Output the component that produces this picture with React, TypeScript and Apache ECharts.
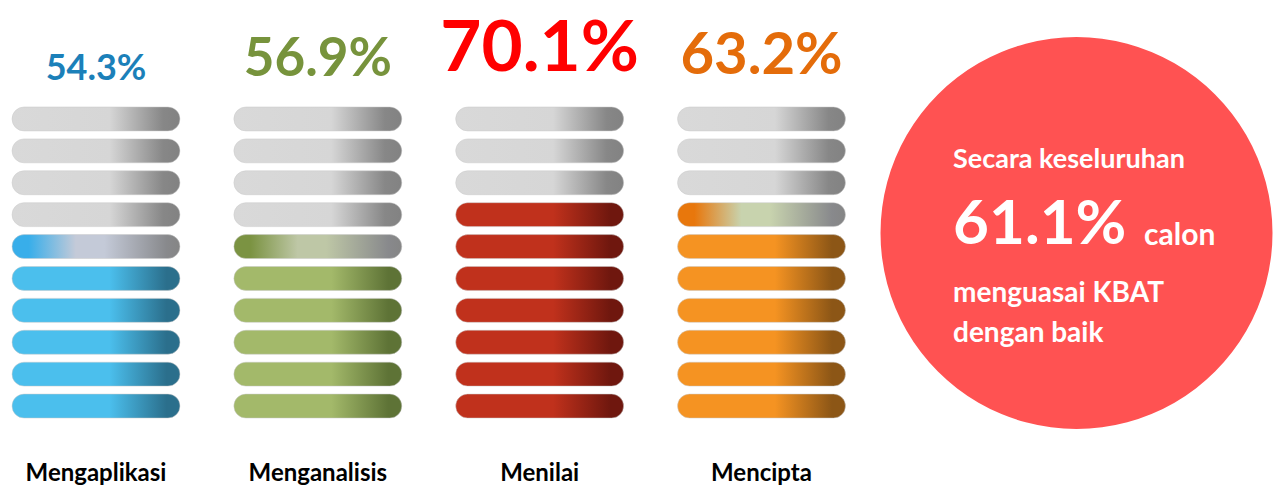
import React, { useEffect, useRef } from "react";
import * as echarts from "echarts";

// ---- data ----
const categories = ["Mengaplikasi", "Menganalisis", "Menilai", "Mencipta"];
const percentages = [54.3, 56.9, 70.1, 63.2];
const overallPercent = 61.1;
const slotValues = [5, 15, 25, 35, 45, 55, 65, 75, 85, 95]; // centre of each 10% slot
const summaryLines = ["Secara keseluruhan", "calon", "menguasai KBAT", "dengan baik"];

// ---- styles ----
const FONT = "Lato, 'Open Sans', sans-serif";
const labelColors = ["#1b80b9", "#77933c", "#ff0000", "#e46c0a"];
const labelSizes = [36, 53, 71, 58];
const fullLeft = ["#4bbfed", "#a3b96a", "#c0311c", "#f59322"];
const fullRight = ["#2b6f8c", "#5e7336", "#6f170e", "#8c5616"];
const partialLeft = ["#38aeea", "#7b9342", "#c0311c", "#e8770c"];
const partialPale = ["#c4cad8", "#bec7a6", "#d9d9d9", "#c8d3ae"];

function grad(stops: [number, string][]) {
  return new echarts.graphic.LinearGradient(
    0, 0, 1, 0,
    stops.map(([offset, color]) => ({ offset, color }))
  );
}

export default function App() {
  const ref = useRef<HTMLDivElement>(null);
  useEffect(() => {
    if (!ref.current) return;
    const chart = echarts.init(ref.current, null, { renderer: "svg" });

    const renderItem = (params: any, api: any) => {
      const i = api.value(0);
      const v = api.value(1);
      const size = api.size([1, 10]);
      const w = size[0] * 0.757;
      const h = size[1] * 0.75;
      const children: any[] = [];
      slotValues.forEach((sv) => {
        const c = api.coord([i, sv]);
        const lo = sv - 5;
        const frac = (v - lo) / 10;
        let fill;
        if (frac >= 1) {
          fill = grad([[0, fullLeft[i]], [0.58, fullLeft[i]], [0.92, fullRight[i]], [1, fullRight[i]]]);
        } else if (frac >= 0.1) {
          fill = grad([[0, partialLeft[i]], [0.1, partialLeft[i]], [0.38, partialPale[i]], [0.55, partialPale[i]], [0.92, "#88898c"], [1, "#858585"]]);
        } else {
          fill = grad([[0, "#d9d9d9"], [0.58, "#d6d6d6"], [0.9, "#878787"], [1, "#828282"]]);
        }
        children.push({
          type: "rect",
          shape: { x: c[0] - w / 2, y: c[1] - h / 2, width: w, height: h, r: h / 2 },
          style: { fill, stroke: "rgba(200,200,200,0.6)", lineWidth: 0.8 },
        });
      });
      const top = api.coord([i, 100]);
      const fs = labelSizes[i];
      children.push({
        type: "text",
        style: {
          text: v.toFixed(1) + "%",
          x: top[0],
          y: top[1] - (13 + 0.657 * fs),
          align: "center",
          verticalAlign: "middle",
          font: `bold ${fs}px ${FONT}`,
          fill: labelColors[i],
        },
      });
      return { type: "group", children };
    };

    chart.setOption({
      animation: false,
      grid: { left: 96, top: 103, width: 665.5, height: 319 },
      xAxis: {
        type: "category",
        data: categories,
        boundaryGap: false,
        axisLine: { show: false },
        axisTick: { show: false },
        splitLine: { show: false },
        axisLabel: {
          color: "#000",
          fontSize: 24,
          fontWeight: "bold",
          fontFamily: FONT,
          margin: 37,
        },
      },
      yAxis: { type: "value", min: 0, max: 100, interval: 10, show: false },
      series: [
        {
          type: "custom",
          renderItem,
          data: percentages.map((p, i) => [i, p]),
          clip: false,
        },
      ],
      graphic: [
        {
          type: "circle",
          shape: { cx: 1076.5, cy: 233, r: 196 },
          style: { fill: "#ff5252" },
          z: 0,
        },
        {
          type: "text",
          style: { text: summaryLines[0], x: 953, y: 157, verticalAlign: "middle", font: `bold 27px ${FONT}`, fill: "#fff" },
          z: 1,
        },
        {
          type: "text",
          style: { text: overallPercent.toFixed(1) + "%", x: 953, y: 220, verticalAlign: "middle", font: `bold 62px ${FONT}`, fill: "#fff" },
          z: 1,
        },
        {
          type: "text",
          style: { text: summaryLines[1], x: 1144, y: 233, verticalAlign: "middle", font: `bold 30px ${FONT}`, fill: "#fff" },
          z: 1,
        },
        {
          type: "text",
          style: { text: summaryLines[2], x: 953, y: 291, verticalAlign: "middle", font: `bold 28px ${FONT}`, fill: "#fff" },
          z: 1,
        },
        {
          type: "text",
          style: { text: summaryLines[3], x: 953, y: 331, verticalAlign: "middle", font: `bold 28px ${FONT}`, fill: "#fff" },
          z: 1,
        },
      ],
    });
    return () => chart.dispose();
  }, []);
  return (
    <div
      ref={ref}
      style={{ position: "absolute", left: 0, top: 0, width: 1276, height: 486 }}
    />
  );
}
